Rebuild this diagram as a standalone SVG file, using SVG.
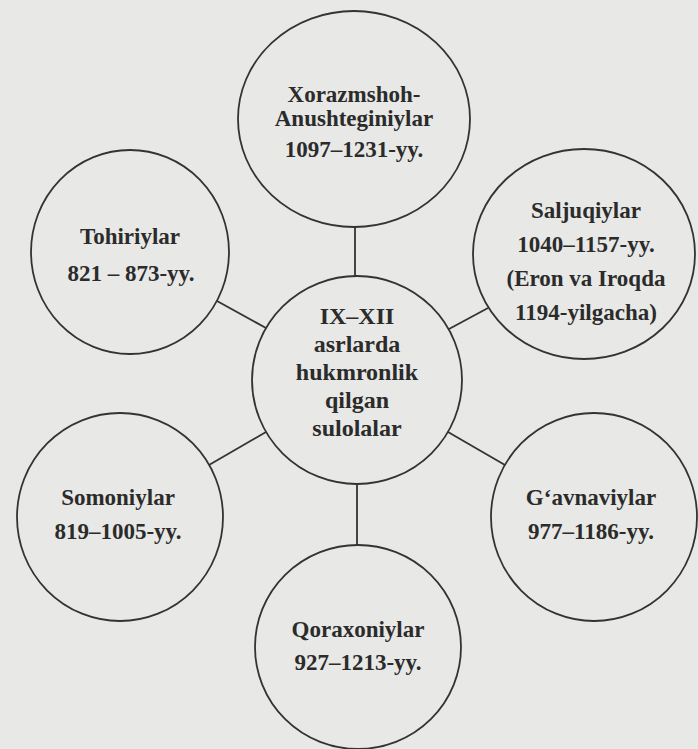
<svg xmlns="http://www.w3.org/2000/svg" width="698" height="749" viewBox="0 0 698 749">
<style>
.bg{fill:#e8e8e6}
.node ellipse{fill:none;stroke:#333;stroke-width:1.8}
.conn line{stroke:#333;stroke-width:1.8}
text{font-family:"Liberation Serif","Times New Roman",serif;font-weight:bold;font-size:23px;fill:#2b2b2b;text-anchor:middle}
.c text{font-size:24px}
</style>
<rect class="bg" x="0" y="0" width="698" height="749"/>
<g class="conn" id="connectors">
<line x1="355" y1="227" x2="355" y2="276"/>
<line x1="217" y1="301" x2="266" y2="328"/>
<line x1="449" y1="329" x2="488" y2="308"/>
<line x1="266" y1="432" x2="209" y2="465"/>
<line x1="448" y1="432" x2="505" y2="465"/>
<line x1="357" y1="484" x2="357" y2="545"/>
</g>
<g class="node c" id="center">
<ellipse cx="357" cy="380" rx="105" ry="104"/>
<text x="357" y="324">IX–XII</text>
<text x="357" y="352">asrlarda</text>
<text x="357" y="380">hukmronlik</text>
<text x="357" y="408">qilgan</text>
<text x="357" y="436">sulolalar</text>
</g>
<g class="node" id="xorazmshoh">
<ellipse cx="354" cy="119" rx="116" ry="108"/>
<text x="354" y="102">Xorazmshoh-</text>
<text x="354" y="126">Anushteginiylar</text>
<text x="354" y="157">1097–1231-yy.</text>
</g>
<g class="node" id="tohiriylar">
<ellipse cx="130" cy="252" rx="99" ry="102"/>
<text x="130" y="244">Tohiriylar</text>
<text x="131" y="281">821 – 873-yy.</text>
</g>
<g class="node" id="saljuqiylar">
<ellipse cx="584" cy="254" rx="111" ry="105"/>
<text x="586" y="218">Saljuqiylar</text>
<text x="586" y="252">1040–1157-yy.</text>
<text x="586" y="286">(Eron va Iroqda</text>
<text x="586" y="320">1194-yilgacha)</text>
</g>
<g class="node" id="somoniylar">
<ellipse cx="120" cy="517" rx="103" ry="104"/>
<text x="118" y="505">Somoniylar</text>
<text x="118" y="539">819–1005-yy.</text>
</g>
<g class="node" id="gavnaviylar">
<ellipse cx="594" cy="517" rx="103" ry="104"/>
<text x="591" y="505">G‘avnaviylar</text>
<text x="591" y="539">977–1186-yy.</text>
</g>
<g class="node" id="qoraxoniylar">
<ellipse cx="358" cy="647" rx="103" ry="102"/>
<text x="358" y="637">Qoraxoniylar</text>
<text x="358" y="670">927–1213-yy.</text>
</g>
</svg>
